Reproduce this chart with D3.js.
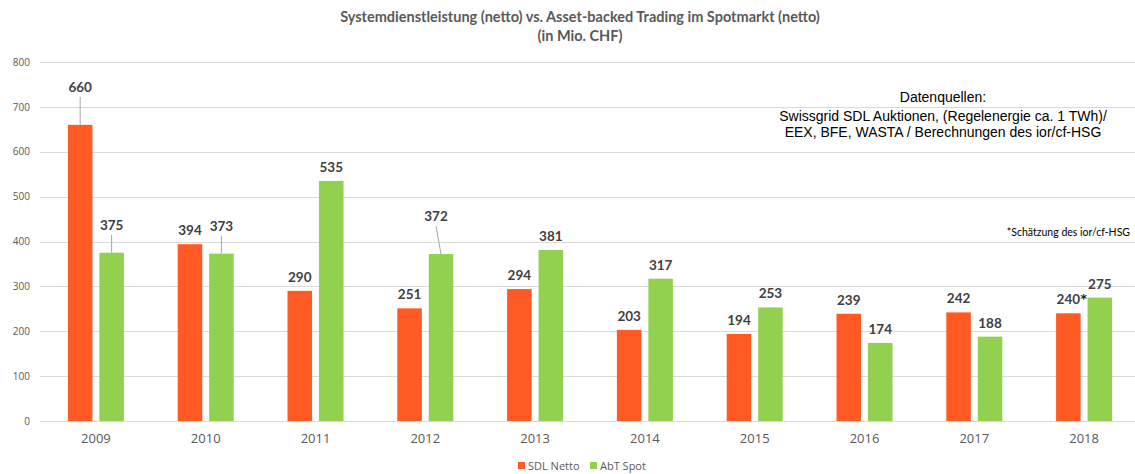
<!DOCTYPE html>
<html>
<head>
<meta charset="utf-8">
<script src="https://cdn.jsdelivr.net/npm/d3@7"></script>
<style>
  body { margin: 0; background: #fff; }
  svg { display: block; }
</style>
</head>
<body>
<script>
// chart data
const years = ['2009','2010','2011','2012','2013','2014','2015','2016','2017','2018'];
const seriesNames = ['SDL Netto', 'AbT Spot'];
const sdlNetto = [660, 394, 290, 251, 294, 203, 194, 239, 242, 240];
const abtSpot = [375, 373, 535, 372, 381, 317, 253, 174, 188, 275];
const yTicks = [0, 100, 200, 300, 400, 500, 600, 700, 800];
const colors = ['#ff5a24', '#92d050'];

const titleLines = ['Systemdienstleistung (netto) vs. Asset-backed Trading im Spotmarkt (netto)', '(in Mio. CHF)'];
const sourceLines = ['Datenquellen:', 'Swissgrid SDL Auktionen, (Regelenergie ca. 1 TWh)/', 'EEX, BFE, WASTA / Berechnungen des ior/cf-HSG'];
const footNote = '*Schätzung des ior/cf-HSG';
const estimated = ['SDL Netto|2018'];

// labels moved up with a leader line: [dx, lift]
const raised = {
  'SDL Netto|2009': [0, 24],
  'AbT Spot|2009': [0, 14],
  'AbT Spot|2010': [0, 14],
  'AbT Spot|2012': [-5, 24]
};

const W = 1135, H = 474;
let svg = d3.select('body')
      .append('svg')
      .attr('width', W)
      .attr('height', H);

let x = d3.scaleBand().domain(years).range([41, 1139]);
let x1 = d3.scaleBand().domain(seriesNames).range([-28, 28]).paddingInner(0.22);
let y = d3.scaleLinear().domain([0, 800]).range([421, 62]);

// gridlines
svg.append('g')
  .selectAll('line')
  .data(yTicks)
  .join('line')
  .attr('x1', 40).attr('x2', W)
  .attr('y1', d => Math.round(y(d)) + 0.5)
  .attr('y2', d => Math.round(y(d)) + 0.5)
  .style('stroke', '#d9d9d9')
  .style('stroke-width', 1);

// y axis labels
let yAxis = svg.append('g')
  .attr('transform', 'translate(40,0)')
  .call(d3.axisLeft(y).tickValues(yTicks).tickSize(0).tickPadding(10));
yAxis.select('.domain').remove();
yAxis.selectAll('text')
  .style('font-family', '"Open Sans", sans-serif')
  .style('font-size', '10px')
  .style('fill', '#595959');

// x axis labels
let xAxis = svg.append('g')
  .attr('transform', 'translate(0,' + y(0) + ')')
  .call(d3.axisBottom(x).tickSize(0).tickPadding(13));
xAxis.select('.domain').remove();
xAxis.selectAll('text')
  .style('font-family', '"Open Sans", sans-serif')
  .style('font-size', '13px')
  .style('fill', '#595959');

let rows = [];
years.forEach((yr, i) => {
  rows.push({ series: seriesNames[0], year: yr, value: sdlNetto[i] });
  rows.push({ series: seriesNames[1], year: yr, value: abtSpot[i] });
});

// bars
svg.append('g')
  .selectAll('rect')
  .data(rows)
  .join('rect')
  .attr('x', d => x(d.year) + x.bandwidth() / 2 + x1(d.series))
  .attr('y', d => y(d.value))
  .attr('width', x1.bandwidth())
  .attr('height', d => y(0) - y(d.value))
  .style('fill', d => colors[seriesNames.indexOf(d.series)]);

// baseline
svg.append('line')
  .attr('x1', 40).attr('x2', W)
  .attr('y1', Math.round(y(0)) + 0.5).attr('y2', Math.round(y(0)) + 0.5)
  .style('stroke', '#d9d9d9');

// data labels
let cx = d => x(d.year) + x.bandwidth() / 2 + x1(d.series) + x1.bandwidth() / 2;
let key = d => d.series + '|' + d.year;
let labels = svg.append('g');
rows.forEach(d => {
  let r = raised[key(d)] || [0, 0];
  let ly = y(d.value) - 9 - r[1];
  let lx = cx(d) + r[0];
  if (r[1] > 0) {
    labels.append('line')
      .attr('x1', lx).attr('y1', ly + 5)
      .attr('x2', cx(d)).attr('y2', y(d.value))
      .style('stroke', '#a6a6a6')
      .style('stroke-width', 1);
  }
  labels.append('text')
    .attr('x', lx)
    .attr('y', ly)
    .attr('text-anchor', 'middle')
    .style('font-family', 'Lato, sans-serif')
    .style('font-weight', 'bold')
    .style('font-size', '13.5px')
    .style('fill', '#404040')
    .text(d.value);
  if (estimated.includes(key(d))) {
    labels.append('text')
      .attr('x', lx + 12)
      .attr('y', ly - 1)
      .style('font-family', '"DejaVu Sans", sans-serif')
      .style('font-weight', 'bold')
      .style('font-size', '13px')
      .style('fill', '#262626')
      .text('*');
  }
});

// title
svg.append('g')
  .selectAll('text')
  .data(titleLines)
  .join('text')
  .attr('x', 580)
  .attr('y', (d, i) => 22 + i * 19)
  .attr('text-anchor', 'middle')
  .style('font-family', 'Lato, sans-serif')
  .style('font-weight', 'bold')
  .style('font-size', '14.5px')
  .style('fill', '#595959')
  .text(d => d);

// sources box
svg.append('g')
  .selectAll('text')
  .data(sourceLines)
  .join('text')
  .attr('x', 943)
  .attr('y', (d, i) => [102, 121, 137][i])
  .attr('text-anchor', 'middle')
  .style('font-family', '"Liberation Sans", Arial, sans-serif')
  .style('font-size', '14px')
  .style('fill', '#000')
  .text(d => d);

svg.append('text')
  .attr('x', 1130)
  .attr('y', 236)
  .attr('text-anchor', 'end')
  .style('font-family', 'Lato, sans-serif')
  .style('font-size', '10.5px')
  .style('fill', '#000')
  .text(footNote);

// legend
let legend = svg.append('g').attr('transform', 'translate(518,466)');
let lx0 = [0, 72];
seriesNames.forEach((s, i) => {
  legend.append('rect')
    .attr('x', lx0[i]).attr('y', -4)
    .attr('width', 7).attr('height', 7)
    .style('fill', colors[i]);
  legend.append('text')
    .attr('x', lx0[i] + 10).attr('y', 3.5)
    .style('font-family', '"Open Sans", sans-serif')
    .style('font-size', '11px')
    .style('fill', '#595959')
    .text(s);
});
</script>
</body>
</html>
